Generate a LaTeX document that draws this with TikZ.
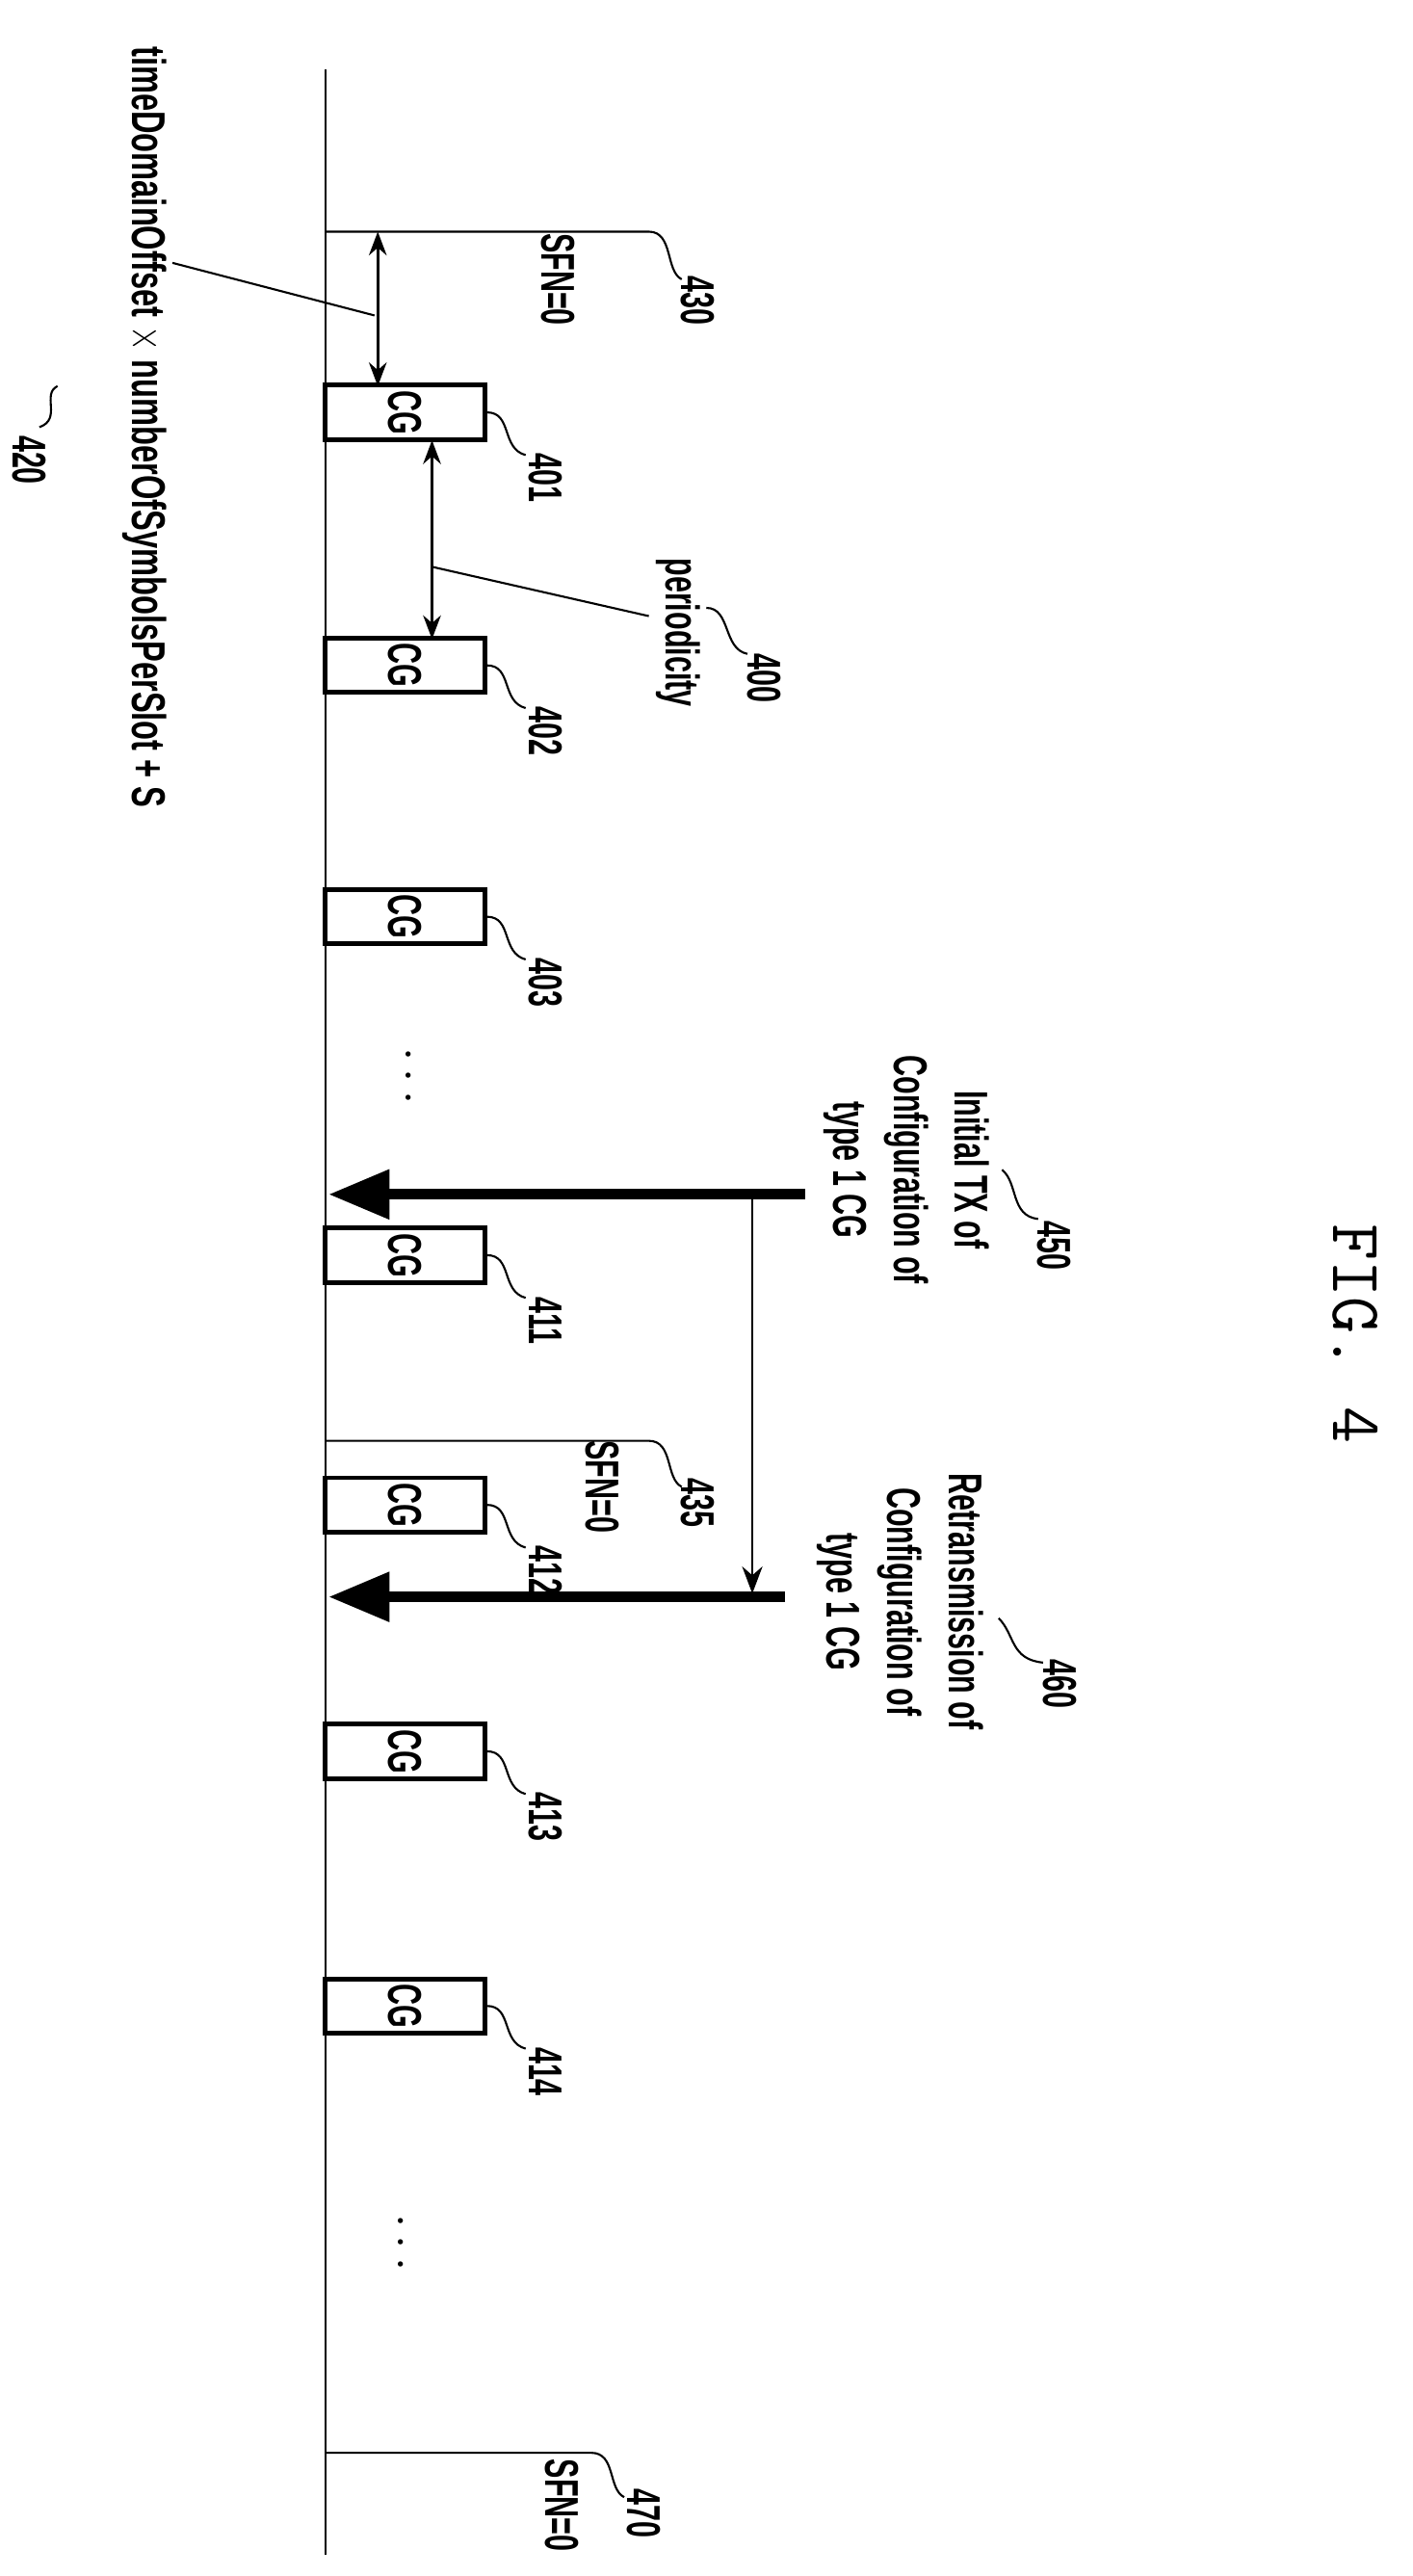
\documentclass[tikz,border=0pt]{standalone}
\usepackage{fontspec}
\setmainfont{Liberation Sans}
\usetikzlibrary{arrows.meta}
\newcommand{\nar}[1]{\scalebox{0.62}[1]{\bfseries #1}}
\tikzset{
  lbl/.style={rotate=-90, inner sep=0pt, font=\fontsize{14}{18}\selectfont, align=center},
  cgbox/.style={draw, line width=1.4pt, minimum width=97*0.1706mm, minimum height=33*0.1706mm, inner sep=0pt},
  lead/.style={line width=0.6pt},
  dbl/.style={line width=0.8pt, {Stealth[length=7pt]}-{Stealth[length=7pt]}},
  big/.style={line width=3.2pt, -{Triangle[length=18pt,width=14pt]}},
}
\begin{document}
\begin{tikzpicture}[x=0.01706cm, y=0.01706cm]
\useasboundingbox (0,0) rectangle (860,-1568);
% time axis
\draw[lead] (198,-42) -- (198,-1555);
% SFN markers
\coordinate (s0) at (198,-141); \coordinate (s0e) at (395,-141);
\draw[lead] (s0) -- (s0e) .. controls (410,-141) and (405,-165) .. (415,-170);
\node[lbl] (sfnA) at (340,-170) {\nar{SFN=0}};
\node[lbl] (n430) at (425,-183) {\nar{430}};
\coordinate (s1) at (198,-877); \coordinate (s1e) at (395,-877);
\draw[lead] (s1) -- (s1e) .. controls (410,-877) and (405,-900) .. (415,-905);
\node[lbl] (sfnB) at (367,-905) {\nar{SFN=0}};
\node[lbl] (n435) at (425,-915) {\nar{435}};
\coordinate (s2) at (198,-1493); \coordinate (s2e) at (360,-1493);
\draw[lead] (s2) -- (s2e) .. controls (375,-1493) and (370,-1515) .. (380,-1520);
\node[lbl] (sfnC) at (342,-1525) {\nar{SFN=0}};
\node[lbl] (n470) at (392,-1530) {\nar{470}};
% CG boxes
\foreach \y/\n in {251/401,405/402,558/403,764/411,916/412,1066/413,1221/414}{
  \node[cgbox] (cg\n) at (246.5,-\y) {};
  \node[lbl] at (cg\n) {\nar{CG}};
  \draw[lead] (cg\n.east) .. controls (312,-\y) and (305,-\y-22) .. (320,-\y-26);
  \node[lbl] (n\n) at (332,-\y-40) {\nar{\n}};
}
% offset
\coordinate (o1) at (230,-141);
\draw[dbl] (o1) -- (230,-235);
\draw[lead] (105,-160) -- (228,-192);
\node[lbl] (tdo) at (88,-260) {\scalebox{1.07}[1]{\nar{timeDomainOffset $\times$ numberOfSymbolsPerSlot + S}}};
\draw[lead] (35,-235) .. controls (25,-240) and (38,-255) .. (24,-260);
\node[lbl] (n420) at (18,-280) {\nar{420}};
% periodicity
\draw[dbl] (263,-268) -- (263,-389);
\draw[lead] (263,-345) -- (395,-375);
\node[lbl] (per) at (413,-385) {\nar{periodicity}};
\draw[lead] (430,-370) .. controls (445,-370) and (440,-395) .. (455,-398);
\node[lbl] (n400) at (465,-413) {\nar{400}};
% dots
\node[lbl] (dotsA) at (248,-655) {$\cdots$};
\node[lbl] (dotsB) at (243,-1365) {$\cdots$};
% transmissions
\draw[big] (490,-727) -- (200,-727);
\draw[line width=0.8pt, -{Stealth[length=8pt]}] (458,-727) -- (458,-970);
\draw[big] (478,-972) -- (200,-972);
\node[lbl] (init) at (552,-712) {\nar{Initial TX of}\\ \nar{Configuration of}\\ \nar{type 1 CG}};
\draw[lead] (610,-712) .. controls (620,-720) and (615,-740) .. (632,-742);
\node[lbl] (n450) at (642,-758) {\nar{450}};
\node[lbl] (retx) at (548,-975) {\nar{Retransmission of}\\ \nar{Configuration of}\\ \nar{type 1 CG}};
\draw[lead] (608,-985) .. controls (618,-995) and (615,-1010) .. (635,-1012);
\node[lbl] (n460) at (645,-1025) {\nar{460}};
\node[lbl, font=\ttfamily\fontsize{21}{21}\selectfont] (fig) at (825,-812) {FIG. 4};
\end{tikzpicture}
\end{document}
